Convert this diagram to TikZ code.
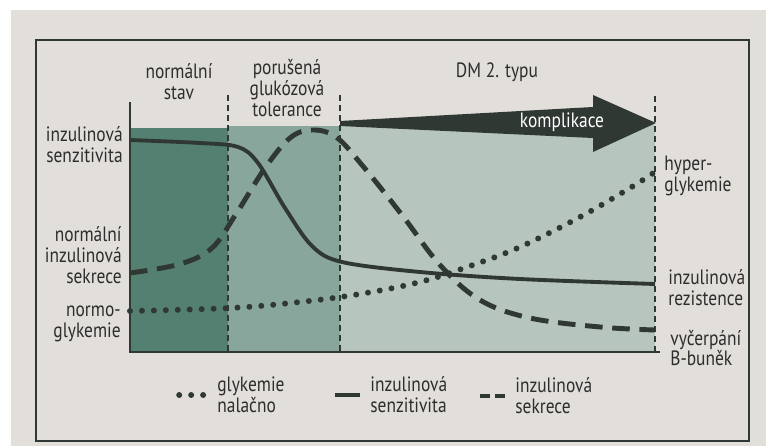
\documentclass[tikz,border=0pt]{standalone}
\usepackage{fontspec}
\setmainfont{PT Sans}[FakeStretch=0.84]
\usetikzlibrary{positioning}
\definecolor{colPapir}{RGB}{226,223,219}
\definecolor{colCara}{RGB}{48,56,52}
\definecolor{colTmava}{RGB}{84,128,113}
\definecolor{colStredni}{RGB}{136,166,156}
\definecolor{colSvetla}{RGB}{182,197,190}
\definecolor{colText}{RGB}{45,45,45}

\begin{document}
\begin{tikzpicture}[x=0.02cm, y=-0.02cm, text=colText,
    font=\fontsize{11.8}{11.8}\selectfont,
    lbl/.style={align=right, inner sep=0pt, anchor=east},
    lbr/.style={align=left, inner sep=0pt, anchor=west},
    hlav/.style={align=center, inner sep=0pt},
    hranice/.style={dash pattern=on 3.4pt off 2.3pt, line width=0.8pt, colCara},
    glyk/.style={line width=3.4pt, line cap=round, dash pattern=on 0pt off 6.8pt,
      colCara},
    senz/.style={line width=2.2pt, colCara},
    sekr/.style={line width=2.8pt, dash pattern=on 10pt off 5.5pt, colCara}]
  \useasboundingbox (0,0) rectangle (766,446);
  \fill[colPapir] (11,10) rectangle (766,446);
  \draw[line width=1.6pt, colCara] (36,40) rectangle (749,441);

  \fill[colTmava] (130,128) rectangle (228,352);
  \fill[colStredni] (228,126) rectangle (340,352);
  \fill[colSvetla] (340,125) rectangle (655,352);

  \coordinate (p1) at (228,95);
  \coordinate (p1d) at (228,352);
  \coordinate (p2) at (340,95);
  \coordinate (p2d) at (340,352);
  \coordinate (p3) at (655,96);
  \coordinate (p3d) at (655,352);
  \draw[hranice] (p1) -- (p1d);
  \draw[hranice] (p2) -- (p2d);
  \draw[hranice] (p3) -- (p3d);

  \fill[colCara] (340,121) -- (593,107) -- (593,95) -- (656,123)
    -- (593,152) -- (593,138) -- (340,126) -- cycle;
  \node[text=white, inner sep=0pt] (kompl) at (562,122) {komplikace};

  \coordinate (osa) at (130,102);
  \coordinate (pocatek) at (130,352);
  \coordinate (konec) at (660,352);
  \draw[line width=1.4pt, colCara] (osa) -- (pocatek) -- (konec);

  \draw[senz] plot[smooth, tension=0.55] coordinates {(130,140) (200,143)
    (238,147) (258,163) (285,208) (312,246) (342,262) (420,272) (520,279)
    (655,284)};
  \draw[sekr] plot[smooth, tension=0.6] coordinates {(130,273) (180,264)
    (212,248) (236,214) (265,168) (290,138) (312,130) (336,137) (362,165)
    (402,215) (440,265) (480,300) (530,318) (600,327) (655,330)};
  \draw[glyk] plot[smooth, tension=0.6] coordinates {(130,311) (230,308)
    (300,302) (360,294) (420,282) (470,266) (520,247) (580,217) (630,188)
    (655,172)};

  \node[hlav] (normal) at (179,82) {normální\\stav};
  \node[hlav] (porus) at (287,88) {porušená\\glukózová\\tolerance};
  \node[hlav] (dm) at (497,72) {DM 2. typu};

  \node[lbl] (senzit) at (123,145) {inzulinová\\senzitivita};
  \node[lbl] (sekrece) at (122,255) {normální\\inzulinová\\sekrece};
  \node[lbl] (normo) at (121,324) {normo-\\glykemie};

  \node[lbr] (hyper) at (664,176) {hyper-\\glykemie};
  \node[lbr] (rezist) at (668,288) {inzulinová\\rezistence};
  \node[lbr] (vycerp) at (670,348) {vyčerpání\\B-buněk};

  \node[lbr] (lglyk) at (217,395) {glykemie\\nalačno};
  \node[lbr] (lsenz) at (370,395) {inzulinová\\senzitivita};
  \node[lbr] (lsekr) at (515,396) {inzulinová\\sekrece};
  \draw[glyk] ([xshift=-21.5pt]lglyk.west) -- ([xshift=-6.8pt]lglyk.west);
  \draw[senz] ([xshift=-20pt]lsenz.west) -- ([xshift=-5.7pt]lsenz.west);
  \draw[sekr, dash pattern=on 5.7pt off 2.8pt]
    ([xshift=-19.9pt]lsekr.west) -- ([xshift=-5.7pt]lsekr.west);
\end{tikzpicture}
\end{document}
